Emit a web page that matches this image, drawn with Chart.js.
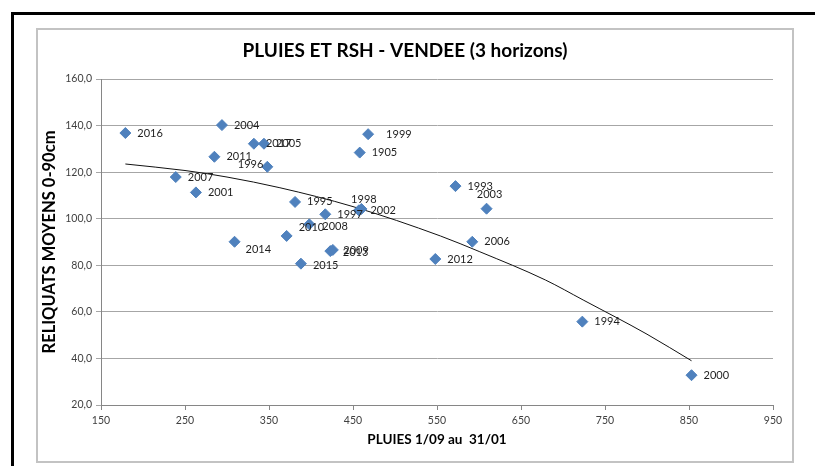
<!doctype html>
<html lang="fr"><head><meta charset="utf-8">
<title>PLUIES ET RSH - VENDEE (3 horizons)</title>
<script src="https://cdn.jsdelivr.net/npm/chart.js@4.4.0/dist/chart.umd.min.js"></script>
<style>
  body{margin:0;background:#fff;font-family:Lato,sans-serif}
  #wrap{position:relative;width:815px;height:466px;overflow:hidden}
  .frame{position:absolute;left:11px;top:12px;width:900px;height:600px;border-top:3px solid #000;border-left:3px solid #000}
  .box{position:absolute;left:36px;top:28px;width:754px;height:431px;border:2px solid #c3c3c3;background:#fff}
  canvas{position:absolute;left:0;top:0}
</style></head><body>
<div id="wrap">
  <div class="frame"></div>
  <div class="box"></div>
  <canvas id="c" width="815" height="466"></canvas>
</div>
<script>
// années, pluies 1/09-31/01 (mm), reliquats moyens 0-90 cm
const YEARS = ['2016','2004','2017','2005','2011','1996','2007','2001','2014','2010','1995','1997','2008',
               '1998','2002','1999','1905','2009','2013','2015','2012','1993','2003','2006','1994','2000'];
const PLUIES = [179, 294, 332, 344, 285, 348, 239, 263, 309, 371, 381, 417, 398,
                457, 460, 468, 458, 423, 426, 388, 548, 572, 609, 592, 723, 853];
const RSH    = [136.8, 140.2, 132.2, 132.2, 126.6, 122.3, 117.9, 111.3, 90.1, 92.6, 107.2, 101.9, 97.6,
                103.6, 104.2, 136.3, 128.4, 86.1, 86.6, 80.7, 82.7, 114.0, 104.3, 90.1, 55.8, 32.8];

// courbe de tendance
const TREND_X = [179, 250, 300, 363, 450, 554, 601, 679, 724, 800, 853];
const TREND_Y = [123.5, 120.7, 117.9, 113.3, 105.2, 92.6, 85.8, 73.7, 65.1, 50.4, 39.0];

const X_TICKS = [150, 250, 350, 450, 550, 650, 750, 850, 950];
const Y_TICKS = [20, 40, 60, 80, 100, 120, 140, 160];

// placement des étiquettes (décalages en px par rapport au point)
const LABEL_POS = {
  '1996': { dx: -4, dy: -2, align: 'right' },
  '1998': { dx: 5, dy: -11, align: 'center' },
  '2003': { dx: 3, dy: -14, align: 'center' },
  '2010': { dx: 12, dy: -8 },
  '2014': { dx: 11, dy: 8 },
  '2008': { dx: 13, dy: 2 },
  '2002': { dx: 9, dy: 2 },
  '2013': { dx: 10, dy: 3 },
  '2009': { dx: 13, dy: -1 },
  '1999': { dx: 18, dy: 0 },
  '2015': { dx: 12, dy: 2 },
};

const pointLabels = {
  id: 'pointLabels',
  afterDatasetsDraw(chart) {
    const { ctx } = chart;
    const meta = chart.getDatasetMeta(0);
    ctx.save();
    ctx.font = '11px Lato, sans-serif';
    ctx.fillStyle = '#1e1e1e';
    ctx.textBaseline = 'middle';
    meta.data.forEach((pt, i) => {
      const p = LABEL_POS[YEARS[i]] || { dx: 12, dy: 0 };
      ctx.textAlign = p.align || 'left';
      ctx.fillText(YEARS[i], pt.x + p.dx, pt.y + p.dy);
    });
    ctx.restore();
  }
};

const tickFont = { family: 'Lato, sans-serif', size: 10.5 };

new Chart(document.getElementById('c'), {
  type: 'scatter',
  data: {
    datasets: [
      {
        label: 'RSH',
        data: PLUIES.map((x, i) => ({ x, y: RSH[i] })),
        pointStyle: 'rectRot',
        pointRadius: 5.5,
        pointBackgroundColor: '#4f81bd',
        pointBorderColor: '#4f81bd',
        pointBorderWidth: 1,
      },
      {
        label: 'Tendance',
        data: TREND_X.map((x, i) => ({ x, y: TREND_Y[i] })),
        showLine: true,
        borderColor: '#111',
        borderWidth: 1,
        pointRadius: 0,
        cubicInterpolationMode: 'monotone',
      }
    ]
  },
  options: {
    responsive: false,
    animation: false,
    layout: { padding: { left: 37, top: 29, right: 42, bottom: 5 } },
    plugins: {
      legend: { display: false },
      tooltip: { enabled: false },
      title: {
        display: true,
        text: 'PLUIES ET RSH - VENDEE (3 horizons)',
        color: '#000',
        font: { family: 'Lato, sans-serif', size: 19, weight: 'bold' },
        padding: { top: 10.6, bottom: 16.6 }
      }
    },
    scales: {
      x: {
        type: 'linear', min: 150, max: 950,
        afterBuildTicks: s => { s.ticks = X_TICKS.map(v => ({ value: v })); },
        afterFit: s => { s.height = 56; },
        grid: { drawOnChartArea: false, tickLength: 5, color: '#868686' },
        border: { color: '#868686' },
        ticks: { font: tickFont, color: '#404040', padding: 4, maxRotation: 0 },
        title: { display: true, text: 'PLUIES 1/09 au  31/01', color: '#000',
                 font: { family: 'Lato, sans-serif', size: 13.5, weight: 'bold' }, padding: { top: 0, bottom: 13 } }
      },
      y: {
        type: 'linear', min: 20, max: 160,
        afterBuildTicks: s => { s.ticks = Y_TICKS.map(v => ({ value: v })); },
        afterFit: s => { s.width = 64; },
        grid: { color: '#a6a6a6', tickLength: 5 },
        border: { color: '#868686' },
        ticks: { font: tickFont, color: '#404040', padding: 4, callback: v => v.toFixed(1).replace('.', ',') },
        title: { display: true, text: 'RELIQUATS MOYENS 0-90cm', color: '#000',
                 font: { family: 'Lato, sans-serif', size: 16.5, weight: 'bold' }, padding: { top: 3, bottom: 0 } }
      }
    }
  },
  plugins: [pointLabels]
});
</script>
</body></html>
